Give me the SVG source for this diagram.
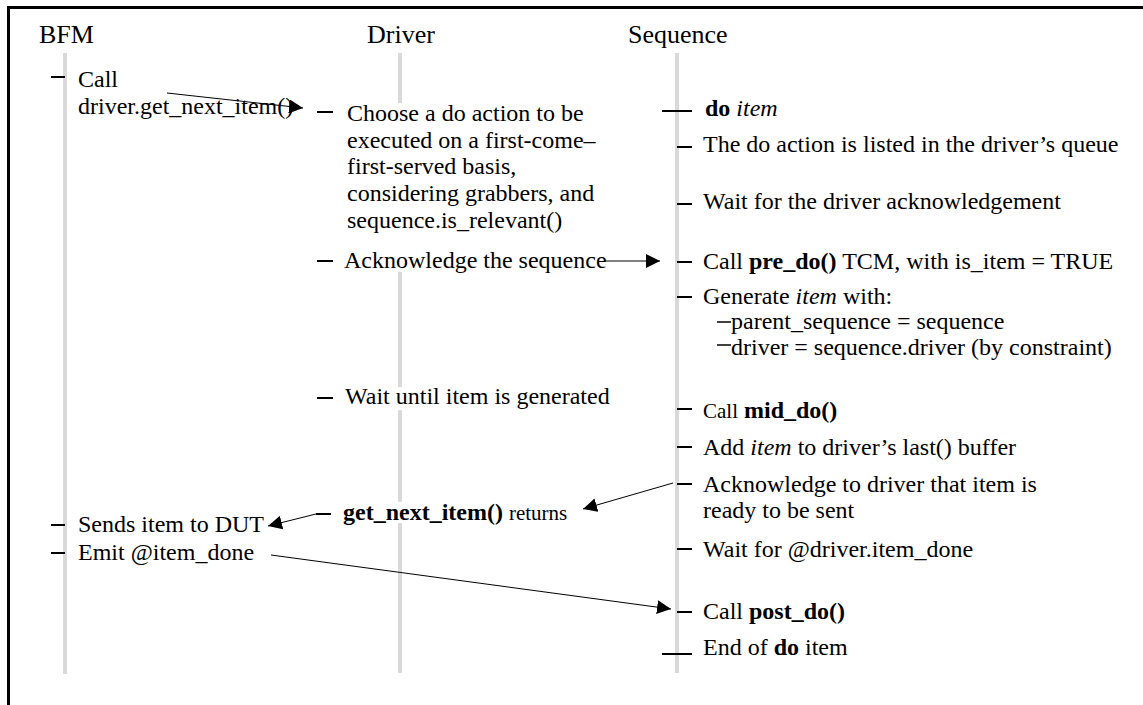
<svg xmlns="http://www.w3.org/2000/svg" width="1143" height="705" viewBox="0 0 1143 705">
<style>
.t{font-family:"Liberation Serif","Times New Roman",serif;font-size:24px;fill:#000}
.h{font-size:26px}
.s{font-size:21px}
.b{font-weight:bold}
.i{font-style:italic}
.life{stroke:#d9d9d9;stroke-width:4;fill:none}
.tick{stroke:#000;stroke-width:2}
.sub{stroke:#000;stroke-width:1.5}
.msg{stroke:#000;stroke-width:1;fill:none;marker-end:url(#ah)}
</style>
<defs>
<marker id="ah" markerWidth="14" markerHeight="14" refX="14" refY="7" orient="auto" markerUnits="userSpaceOnUse"><path d="M0,0 L14,7 L0,14 z" fill="#000"/></marker>
</defs>
<rect width="1143" height="705" fill="#fff"/>
<path d="M8.5,705 V7.5 H1143" stroke="#000" stroke-width="3" fill="none"/>

<g id="bfm">
<text class="t h" x="39" y="43">BFM</text>
<line class="life" x1="65" y1="53" x2="65" y2="674"/>
</g>
<g id="driver">
<text class="t h" x="367" y="43">Driver</text>
<path class="life" d="M400,53V103M400,272V387M400,410V502M400,523V673"/>
</g>
<g id="sequence">
<text class="t h" x="628" y="43">Sequence</text>
<line class="life" x1="677" y1="53" x2="677" y2="673"/>
</g>

<g id="bfm-call">
<line class="tick" x1="51" y1="77" x2="65" y2="77"/>
<text class="t" x="78" y="87">Call</text>
<text class="t" x="78" y="114">driver.get_next_item()</text>
</g>
<g id="bfm-sends">
<line class="tick" x1="51" y1="525" x2="65" y2="525"/>
<text class="t" x="78" y="532">Sends item to DUT</text>
</g>
<g id="bfm-emit">
<line class="tick" x1="51" y1="553" x2="65" y2="553"/>
<text class="t" x="78" y="560">Emit @item_done</text>
</g>

<g id="drv-choose">
<line class="tick" x1="317" y1="112" x2="333" y2="112"/>
<text class="t" x="347" y="121">Choose a do action to be</text>
<text class="t" x="347" y="148">executed on a first-come–</text>
<text class="t" x="347" y="174">first-served basis,</text>
<text class="t" x="347" y="201">considering grabbers, and</text>
<text class="t" x="347" y="228">sequence.is_relevant()</text>
</g>
<g id="drv-ack">
<line class="tick" x1="317" y1="261" x2="333" y2="261"/>
<text class="t" x="344" y="268">Acknowledge the sequence</text>
</g>
<g id="drv-wait">
<line class="tick" x1="317" y1="398" x2="333" y2="398"/>
<text class="t" x="345" y="404">Wait until item is generated</text>
</g>
<g id="drv-returns">
<line class="tick" x1="316" y1="514" x2="331" y2="514"/>
<text class="t" x="343" y="520"><tspan class="b">get_next_item()</tspan> <tspan class="s">returns</tspan></text>
</g>

<g id="seq-do">
<line class="tick" x1="662" y1="111" x2="692" y2="111"/>
<text class="t" x="705" y="116"><tspan class="b">do</tspan> <tspan class="i">item</tspan></text>
</g>
<g id="seq-listed">
<line class="tick" x1="677" y1="147" x2="692" y2="147"/>
<text class="t" x="703" y="152">The do action is listed in the driver’s queue</text>
</g>
<g id="seq-waitack">
<line class="tick" x1="677" y1="204" x2="692" y2="204"/>
<text class="t" x="703" y="209">Wait for the driver acknowledgement</text>
</g>
<g id="seq-predo">
<line class="tick" x1="677" y1="262" x2="692" y2="262"/>
<text class="t" x="703" y="269">Call <tspan class="b">pre_do()</tspan> TCM, with is_item = TRUE</text>
</g>
<g id="seq-generate">
<line class="tick" x1="677" y1="297" x2="692" y2="297"/>
<text class="t" x="703" y="304">Generate <tspan class="i">item</tspan> with:</text>
<line class="sub" x1="717" y1="322" x2="731" y2="322"/>
<text class="t" x="731" y="329">parent_sequence = sequence</text>
<line class="sub" x1="717" y1="345" x2="731" y2="345"/>
<text class="t" x="731" y="355">driver = sequence.driver (by constraint)</text>
</g>
<g id="seq-middo">
<line class="tick" x1="677" y1="409" x2="692" y2="409"/>
<text class="t" x="703" y="418"><tspan class="s">Call</tspan> <tspan class="b">mid_do()</tspan></text>
</g>
<g id="seq-add">
<line class="tick" x1="677" y1="447" x2="692" y2="447"/>
<text class="t" x="703" y="455">Add <tspan class="i">item</tspan> to driver’s last() buffer</text>
</g>
<g id="seq-ackdrv">
<line class="tick" x1="677" y1="484" x2="692" y2="484"/>
<text class="t" x="703" y="492">Acknowledge to driver that item is</text>
<text class="t" x="703" y="518">ready to be sent</text>
</g>
<g id="seq-waitdone">
<line class="tick" x1="677" y1="549" x2="692" y2="549"/>
<text class="t" x="703" y="557">Wait for @driver.item_done</text>
</g>
<g id="seq-postdo">
<line class="tick" x1="677" y1="612" x2="692" y2="612"/>
<text class="t" x="703" y="619">Call <tspan class="b">post_do()</tspan></text>
</g>
<g id="seq-end">
<line class="tick" x1="662" y1="654" x2="692" y2="654"/>
<text class="t" x="703" y="655">End of <tspan class="b">do</tspan> item</text>
</g>

<g id="connectors">
<line class="msg" x1="167" y1="93" x2="303" y2="108"/>
<line class="msg" x1="605" y1="261" x2="660" y2="261"/>
<line class="msg" x1="673" y1="483" x2="583" y2="509"/>
<line class="msg" x1="316" y1="514" x2="268" y2="526"/>
<line class="msg" x1="271" y1="555" x2="671" y2="609"/>
</g>
</svg>
